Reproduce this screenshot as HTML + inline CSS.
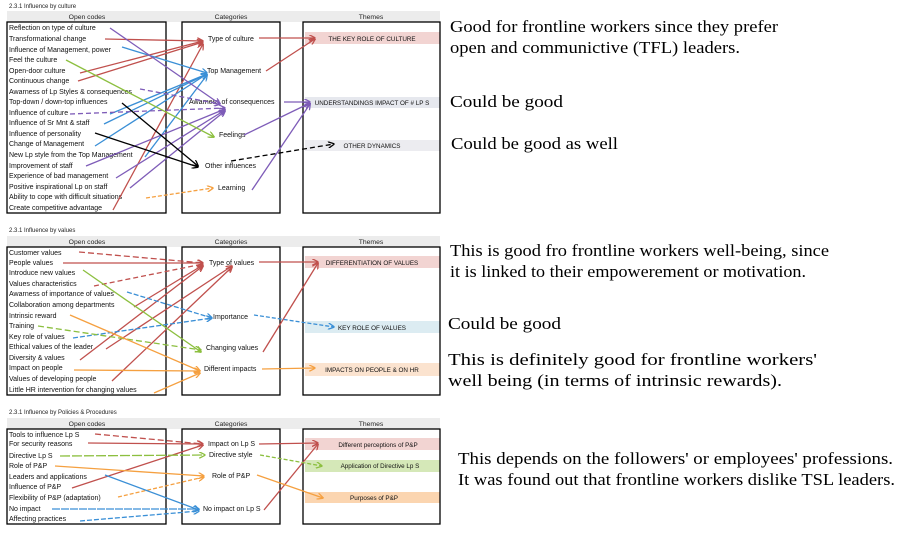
<!DOCTYPE html>
<html><head><meta charset="utf-8"><style>
html,body{margin:0;padding:0;background:#fff;}
svg{display:block;}
.oc{font-family:"Liberation Sans",sans-serif;font-size:7px;fill:#111;}
.hd{font-family:"Liberation Sans",sans-serif;font-size:6.8px;fill:#222;text-anchor:middle;}
.tt{font-family:"Liberation Sans",sans-serif;font-size:6px;fill:#222;}
.ca{font-family:"Liberation Sans",sans-serif;font-size:7px;fill:#111;}
.th{font-family:"Liberation Sans",sans-serif;font-size:6.3px;fill:#111;text-anchor:middle;}
.rt{font-family:"Liberation Serif",serif;font-size:17px;fill:#000;}
</style></head><body>
<svg width="902" height="533" viewBox="0 0 902 533" xmlns="http://www.w3.org/2000/svg">
<defs>
<marker id="r" viewBox="0 0 10 10" refX="9" refY="5" markerWidth="5" markerHeight="5" orient="auto"><path d="M0,0 L10,5 L0,10" fill="none" stroke="#c0504d" stroke-width="2"/></marker>
<marker id="b" viewBox="0 0 10 10" refX="9" refY="5" markerWidth="5" markerHeight="5" orient="auto"><path d="M0,0 L10,5 L0,10" fill="none" stroke="#3a8fd6" stroke-width="2"/></marker>
<marker id="p" viewBox="0 0 10 10" refX="9" refY="5" markerWidth="5" markerHeight="5" orient="auto"><path d="M0,0 L10,5 L0,10" fill="none" stroke="#7e5cb8" stroke-width="2"/></marker>
<marker id="g" viewBox="0 0 10 10" refX="9" refY="5" markerWidth="5" markerHeight="5" orient="auto"><path d="M0,0 L10,5 L0,10" fill="none" stroke="#8cbf3f" stroke-width="2"/></marker>
<marker id="o" viewBox="0 0 10 10" refX="9" refY="5" markerWidth="5" markerHeight="5" orient="auto"><path d="M0,0 L10,5 L0,10" fill="none" stroke="#f5a040" stroke-width="2"/></marker>
<marker id="k" viewBox="0 0 10 10" refX="9" refY="5" markerWidth="5" markerHeight="5" orient="auto"><path d="M0,0 L10,5 L0,10" fill="none" stroke="#000" stroke-width="2"/></marker>
</defs>

<!-- PANEL 1 -->
<text class="tt" x="9" y="8">2.3.1 Influence by culture</text>
<rect x="7" y="11" width="433" height="11" fill="#ececec"/>
<text class="hd" x="87" y="19">Open codes</text>
<text class="hd" x="231" y="19">Categories</text>
<text class="hd" x="371" y="19">Themes</text>
<rect x="305" y="32" width="135" height="12" fill="#f2d4d2"/>
<rect x="305" y="97" width="135" height="11" fill="#e6e8ee"/>
<rect x="305" y="140" width="135" height="11" fill="#ececf0"/>
<rect x="7" y="22" width="159" height="191" fill="none" stroke="#000" stroke-width="1.3"/>
<rect x="182" y="22" width="98" height="191" fill="none" stroke="#000" stroke-width="1.3"/>
<rect x="303" y="22" width="137" height="191" fill="none" stroke="#000" stroke-width="1.3"/>
<g class="oc">
<text x="9" y="30">Reflection on type of culture</text>
<text x="9" y="41">Transformational change</text>
<text x="9" y="52">Influence of Management, power</text>
<text x="9" y="62">Feel the culture</text>
<text x="9" y="73">Open-door culture</text>
<text x="9" y="83">Continuous change</text>
<text x="9" y="94">Awarness of Lp Styles &amp; consequences</text>
<text x="9" y="104">Top-down / down-top influences</text>
<text x="9" y="115">Influence of culture</text>
<text x="9" y="125">Influence of Sr Mnt &amp; staff</text>
<text x="9" y="136">Influence of personality</text>
<text x="9" y="146">Change of Management</text>
<text x="9" y="157">New Lp style from the Top Management</text>
<text x="9" y="168">Improvement of staff</text>
<text x="9" y="178">Experience of bad management</text>
<text x="9" y="189">Positive inspirational Lp on staff</text>
<text x="9" y="199">Ability to cope with difficult situations</text>
<text x="9" y="210">Create competitive advantage</text>
</g>
<g class="ca">
<text x="208" y="41">Type of culture</text>
<text x="207" y="73">Top Management</text>
<text x="189" y="104">Awarness of consequences</text>
<text x="219" y="137">Feelings</text>
<text x="205" y="168">Other influences</text>
<text x="218" y="190">Learning</text>
</g>
<g class="th">
<text x="372" y="41">THE KEY ROLE OF CULTURE</text>
<text x="372" y="105">UNDERSTANDINGS IMPACT OF # LP S</text>
<text x="372" y="148">OTHER DYNAMICS</text>
</g>
<g fill="none" stroke-width="1.3">
<g stroke="#c0504d" marker-end="url(#r)">
<line x1="105" y1="39" x2="203" y2="41"/>
<line x1="80" y1="73" x2="203" y2="41"/>
<line x1="78" y1="81" x2="203" y2="42"/>
<line x1="113" y1="210" x2="203" y2="44"/>
<line x1="259" y1="38" x2="315" y2="38"/>
<line x1="266" y1="71" x2="315" y2="39"/>
</g>
<g stroke="#3a8fd6" marker-end="url(#b)">
<line x1="122" y1="47" x2="207" y2="73"/>
<line x1="104" y1="124" x2="207" y2="74"/>
<line x1="95" y1="146" x2="207" y2="74"/>
<line x1="145" y1="157" x2="207" y2="75"/>
<line x1="110" y1="114" x2="207" y2="74"/>
</g>
<g stroke="#7e5cb8" marker-end="url(#p)">
<line x1="110" y1="28" x2="220" y2="104"/>
<line x1="140" y1="89" x2="220" y2="104" stroke-dasharray="5,3"/>
<line x1="70" y1="114" x2="225" y2="108" stroke-dasharray="5,3"/>
<line x1="86" y1="166" x2="225" y2="109"/>
<line x1="116" y1="178" x2="225" y2="110"/>
<line x1="130" y1="188" x2="225" y2="111"/>
<line x1="284" y1="102" x2="310" y2="102"/>
<line x1="244" y1="135" x2="310" y2="103"/>
<line x1="252" y1="190" x2="310" y2="104"/>
</g>
<g stroke="#8cbf3f" marker-end="url(#g)"><line x1="66" y1="60" x2="214" y2="137"/></g>
<g stroke="#000" marker-end="url(#k)">
<line x1="122" y1="103" x2="198" y2="166"/>
<line x1="95" y1="133" x2="198" y2="167"/>
<line x1="231" y1="161" x2="334" y2="144" stroke-dasharray="5,3"/>
</g>
<g stroke="#f5a040" marker-end="url(#o)"><line x1="146" y1="198" x2="213" y2="188" stroke-dasharray="4,2"/></g>
</g>
<text class="rt" x="450" y="32" textLength="328" lengthAdjust="spacingAndGlyphs">Good for frontline workers since they prefer</text>
<text class="rt" x="450" y="53" textLength="290" lengthAdjust="spacingAndGlyphs">open and communictive (TFL) leaders.</text>
<text class="rt" x="450" y="107" textLength="113" lengthAdjust="spacingAndGlyphs">Could be good</text>
<text class="rt" x="451" y="149" textLength="167" lengthAdjust="spacingAndGlyphs">Could be good as well</text>

<!-- PANEL 2 -->
<text class="tt" x="9" y="232">2.3.1 Influence by values</text>
<rect x="7" y="236" width="433" height="11" fill="#ececec"/>
<text class="hd" x="87" y="244">Open codes</text>
<text class="hd" x="231" y="244">Categories</text>
<text class="hd" x="371" y="244">Themes</text>
<rect x="305" y="256" width="135" height="12" fill="#f2d4d2"/>
<rect x="305" y="321" width="135" height="12" fill="#dcecf2"/>
<rect x="305" y="363" width="135" height="13" fill="#fbe3cf"/>
<rect x="7" y="247" width="159" height="148" fill="none" stroke="#000" stroke-width="1.3"/>
<rect x="182" y="247" width="98" height="148" fill="none" stroke="#000" stroke-width="1.3"/>
<rect x="303" y="247" width="137" height="148" fill="none" stroke="#000" stroke-width="1.3"/>
<g class="oc">
<text x="9" y="255">Customer values</text>
<text x="9" y="265">People values</text>
<text x="9" y="275">Introduce new values</text>
<text x="9" y="286">Values characteristics</text>
<text x="9" y="296">Awarness of importance of values</text>
<text x="9" y="307">Collaboration among departments</text>
<text x="9" y="318">Intrinsic reward</text>
<text x="9" y="328">Training</text>
<text x="9" y="339">Key role of values</text>
<text x="9" y="349">Ethical values of the leader</text>
<text x="9" y="360">Diversity &amp; values</text>
<text x="9" y="370">Impact on people</text>
<text x="9" y="381">Values of developing people</text>
<text x="9" y="392">Little HR intervention for changing values</text>
</g>
<g class="ca">
<text x="209" y="265">Type of values</text>
<text x="213" y="319">Importance</text>
<text x="206" y="350">Changing values</text>
<text x="204" y="371">Different impacts</text>
</g>
<g class="th">
<text x="372" y="265">DIFFERENTIATION OF VALUES</text>
<text x="372" y="330">KEY ROLE OF VALUES</text>
<text x="372" y="372">IMPACTS ON PEOPLE &amp; ON HR</text>
</g>
<g fill="none" stroke-width="1.3">
<g stroke="#c0504d" marker-end="url(#r)">
<line x1="79" y1="252" x2="203" y2="263" stroke-dasharray="6,3"/>
<line x1="63" y1="263" x2="203" y2="263"/>
<line x1="94" y1="286" x2="203" y2="264" stroke-dasharray="5,3"/>
<line x1="134" y1="307" x2="203" y2="265"/>
<line x1="80" y1="360" x2="203" y2="266"/>
<line x1="106" y1="349" x2="232" y2="266"/>
<line x1="112" y1="381" x2="232" y2="267"/>
<line x1="259" y1="262" x2="318" y2="262"/>
<line x1="263" y1="352" x2="318" y2="263"/>
</g>
<g stroke="#3a8fd6" marker-end="url(#b)">
<line x1="127" y1="292" x2="212" y2="318" stroke-dasharray="5,2"/>
<line x1="73" y1="338" x2="212" y2="318" stroke-dasharray="5,2"/>
<line x1="254" y1="315" x2="334" y2="327" stroke-dasharray="4,2"/>
</g>
<g stroke="#8cbf3f" marker-end="url(#g)">
<line x1="83" y1="270" x2="201" y2="352"/>
<line x1="38" y1="326" x2="201" y2="350" stroke-dasharray="6,3"/>
</g>
<g stroke="#f5a040" marker-end="url(#o)">
<line x1="70" y1="315" x2="200" y2="371"/>
<line x1="74" y1="370" x2="200" y2="371"/>
<line x1="154" y1="393" x2="200" y2="373"/>
<line x1="262" y1="369" x2="315" y2="368"/>
</g>
</g>
<text class="rt" x="450" y="256" textLength="379" lengthAdjust="spacingAndGlyphs">This is good fro frontline workers well-being, since</text>
<text class="rt" x="450" y="277" textLength="356" lengthAdjust="spacingAndGlyphs">it is linked to their empowerement or motivation.</text>
<text class="rt" x="448" y="329" textLength="113" lengthAdjust="spacingAndGlyphs">Could be good</text>
<text class="rt" x="448" y="365" textLength="369" lengthAdjust="spacingAndGlyphs">This is definitely good for frontline workers'</text>
<text class="rt" x="448" y="386" textLength="334" lengthAdjust="spacingAndGlyphs">well being (in terms of intrinsic rewards).</text>

<!-- PANEL 3 -->
<text class="tt" x="9" y="414">2.3.1 Influence by Policies &amp; Procedures</text>
<rect x="7" y="418" width="433" height="11" fill="#ececec"/>
<text class="hd" x="87" y="426">Open codes</text>
<text class="hd" x="231" y="426">Categories</text>
<text class="hd" x="371" y="426">Themes</text>
<rect x="305" y="438" width="135" height="12" fill="#f2d4d2"/>
<rect x="305" y="460" width="135" height="12" fill="#d5e8b8"/>
<rect x="305" y="492" width="135" height="11" fill="#fbd5b0"/>
<rect x="7" y="429" width="159" height="95" fill="none" stroke="#000" stroke-width="1.3"/>
<rect x="182" y="429" width="98" height="95" fill="none" stroke="#000" stroke-width="1.3"/>
<rect x="303" y="429" width="137" height="95" fill="none" stroke="#000" stroke-width="1.3"/>
<g class="oc">
<text x="9" y="437">Tools to influence Lp S</text>
<text x="9" y="446">For security reasons</text>
<text x="9" y="458">Directive Lp S</text>
<text x="9" y="468">Role of P&amp;P</text>
<text x="9" y="479">Leaders and applications</text>
<text x="9" y="489">Influence of P&amp;P</text>
<text x="9" y="500">Flexibility of P&amp;P (adaptation)</text>
<text x="9" y="511">No impact</text>
<text x="9" y="521">Affecting practices</text>
</g>
<g class="ca">
<text x="208" y="446">Impact on Lp S</text>
<text x="209" y="457">Directive  style</text>
<text x="212" y="478">Role of P&amp;P</text>
<text x="203" y="511">No impact on Lp S</text>
</g>
<g class="th">
<text x="378" y="447">Different perceptions of P&amp;P</text>
<text x="380" y="468">Application of Directive Lp S</text>
<text x="374" y="500">Purposes of P&amp;P</text>
</g>
<g fill="none" stroke-width="1.3">
<g stroke="#c0504d" marker-end="url(#r)">
<line x1="95" y1="434" x2="203" y2="444" stroke-dasharray="6,3"/>
<line x1="88" y1="443" x2="203" y2="444"/>
<line x1="72" y1="488" x2="203" y2="445"/>
<line x1="259" y1="444" x2="318" y2="443"/>
<line x1="264" y1="510" x2="318" y2="444"/>
</g>
<g stroke="#8cbf3f" marker-end="url(#g)">
<line x1="60" y1="456" x2="205" y2="455" stroke-dasharray="10,2"/>
<line x1="260" y1="455" x2="322" y2="466" stroke-dasharray="4,2"/>
</g>
<g stroke="#f5a040" marker-end="url(#o)">
<line x1="55" y1="466" x2="204" y2="476"/>
<line x1="118" y1="497" x2="204" y2="477" stroke-dasharray="4,2"/>
<line x1="257" y1="475" x2="323" y2="498"/>
</g>
<g stroke="#3a8fd6" marker-end="url(#b)">
<line x1="105" y1="475" x2="199" y2="510"/>
<line x1="52" y1="509" x2="199" y2="509" stroke-dasharray="8,1"/>
<line x1="80" y1="521" x2="199" y2="511" stroke-dasharray="5,2"/>
</g>
</g>
<text class="rt" x="458" y="464" textLength="435" lengthAdjust="spacingAndGlyphs">This depends on the followers' or employees' professions.</text>
<text class="rt" x="458" y="485" textLength="437" lengthAdjust="spacingAndGlyphs">It was found out that frontline workers dislike TSL leaders.</text>
</svg>
</body></html>
